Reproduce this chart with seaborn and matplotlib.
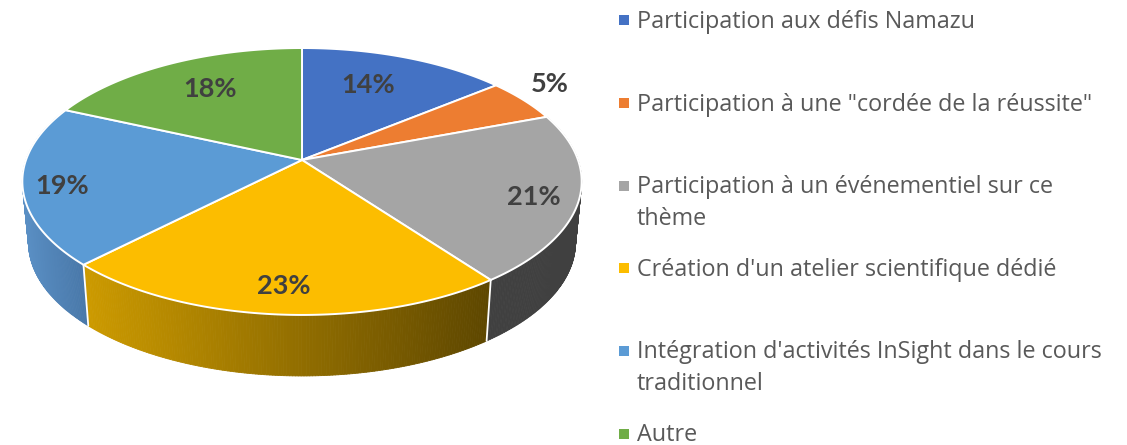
import numpy as np
import pandas as pd
import matplotlib
matplotlib.use("Agg")
import matplotlib.pyplot as plt
from matplotlib.collections import PolyCollection
from matplotlib.colors import LinearSegmentedColormap
from matplotlib.patches import Polygon
import seaborn as sns

categories = ["Participation aux défis Namazu",
              "Participation à une \"cordée de la réussite\"",
              "Participation à un événementiel sur ce\nthème",
              "Création d'un atelier scientifique dédié",
              "Intégration d'activités InSight dans le cours\ntraditionnel",
              "Autre"]
values = [14.1, 5.2, 20.55, 22.51, 19.34, 18.3]
colors = ["#4472C4", "#ED7D31", "#A5A5A5", "#FCBD00", "#5B9BD5", "#70AD47"]
wall_colors = {2: ("#404040", "#404040"), 3: ("#CC9A00", "#5E4700"), 4: ("#5A8FC4", "#4877A8")}
label_xy = [(368, 85), (550, 84), (534, 197), (284, 286), (62, 186), (210, 89)]
legend_y = [20, 103, 186, 268, 351, 434]
text_y = [22, 105, 203, 270, 368, 435]

sns.set_theme(style="white")
plt.rcParams["font.family"] = ["Open Sans", "DejaVu Sans"]

CX, CY, A, B, K = 302.0, 160.0, 276.0, 130.0, 0.161
DEPTH, SHRINK = 61.0, 0.978


def project(frac, r=1.0):
    t = 2 * np.pi * np.asarray(frac)
    x, y = r * np.sin(t), r * np.cos(t)
    w = 1 + K * y
    return CX + A * x / w, CY - B * y / w


def project_bottom(frac):
    x, y = project(frac)
    return CX + (x - CX) * SHRINK, y + DEPTH


fig = plt.figure(figsize=(11.27, 4.45), dpi=100)
ax = fig.add_axes([0, 0, 1, 1])
ax.set_xlim(0, 1127)
ax.set_ylim(445, 0)
ax.axis("off")

edges = np.concatenate([[0], np.cumsum(values)]) / sum(values)

# side walls
for i, (c0, c1) in wall_colors.items():
    fr = np.linspace(edges[i], edges[i + 1], 160)
    xt, yt = project(fr)
    xb, yb = project_bottom(fr)
    quads = [[(xt[j], yt[j]), (xt[j + 1], yt[j + 1]), (xb[j + 1], yb[j + 1]), (xb[j], yb[j])]
             for j in range(len(fr) - 1) if (yb[j] > yt[j])]
    cmap = LinearSegmentedColormap.from_list("w", [c0, c1])
    lo, hi = (85, 490) if i == 3 else (22, 85)
    cols = [cmap(np.clip(((q[0][0] + q[1][0]) / 2 - lo) / (hi - lo), 0, 1)) for q in quads]
    ax.add_collection(PolyCollection(quads, facecolors=cols, edgecolors=cols, linewidths=0.6, zorder=1))

# white separators on the wall
for f in (edges[3], edges[4]):
    xt, yt = project(f)
    xb, yb = project_bottom(f)
    ax.plot([xt, xb], [yt, yb], color="white", lw=1.3, zorder=2)

# top face
for i, c in enumerate(colors):
    fr = np.linspace(edges[i], edges[i + 1], 120)
    xs, ys = project(fr)
    pts = np.column_stack([np.r_[CX, xs], np.r_[CY, ys]])
    ax.add_patch(Polygon(pts, closed=True, facecolor=c, edgecolor="white", lw=1.4, joinstyle="round", zorder=3))

# data labels
for v, (x, y) in zip(values, label_xy):
    ax.text(x, y, f"{v:.0f}%", ha="center", va="center", fontsize=19.5, fontweight="bold",
            family="Lato", color="#404040", zorder=5)

# legend
df = pd.DataFrame({"x": [624.0] * len(categories), "y": legend_y, "cat": categories})
sns.scatterplot(data=df, x="x", y="y", hue="cat", palette=colors, marker="s", s=48,
                linewidth=0, legend=False, ax=ax, zorder=5)
ax.set_xlim(0, 1127)
ax.set_ylim(445, 0)
ax.axis("off")
for cat, y in zip(categories, text_y):
    ax.text(637, y, cat, ha="left", va="center", fontsize=16.8, color="#595959",
            linespacing=1.4, zorder=5)

fig.savefig("out.png", dpi=100)
